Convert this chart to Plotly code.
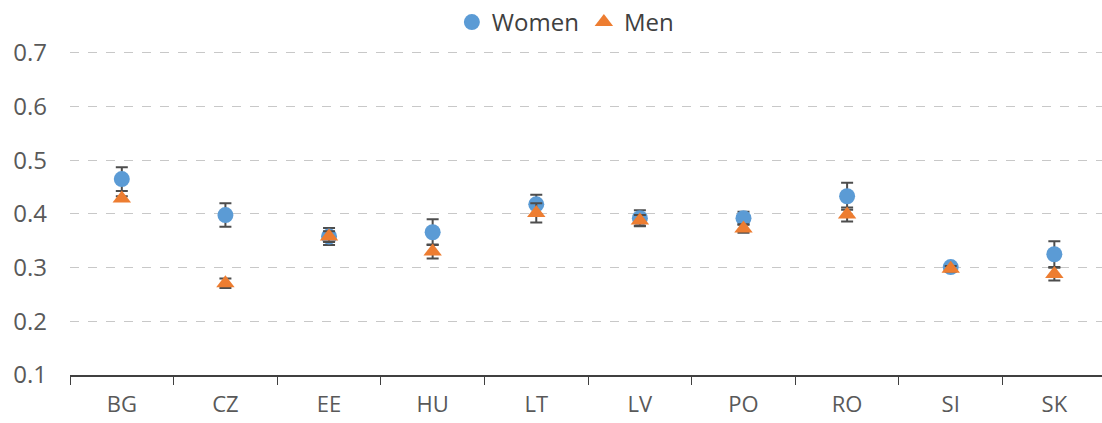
import plotly.graph_objects as go

# Country codes along the category axis
countries = ["BG", "CZ", "EE", "HU", "LT", "LV", "PO", "RO", "SI", "SK"]

# Mean values and symmetric error half-widths
women = [0.465, 0.398, 0.358, 0.366, 0.418, 0.392, 0.392, 0.433, 0.301, 0.325]
women_err = [0.022, 0.022, 0.016, 0.024, 0.018, 0.015, 0.012, 0.025, 0.006, 0.024]
men = [0.429, 0.271, 0.358, 0.330, 0.402, 0.388, 0.373, 0.399, 0.298, 0.288]
men_err = [0.004, 0.009, 0.010, 0.013, 0.018, 0.010, 0.008, 0.013, 0.005, 0.012]

y_ticks = [0.1, 0.2, 0.3, 0.4, 0.5, 0.6, 0.7]

FONT = "Open Sans"
ERR_COLOR = "#4D4D4D"

fig = go.Figure()
fig.add_trace(go.Scatter(
    x=countries, y=women, name="Women", mode="markers",
    marker=dict(symbol="circle", size=16, color="#5B9BD5"),
    error_y=dict(type="data", array=women_err, visible=True,
                 color=ERR_COLOR, thickness=2, width=6),
))
fig.add_trace(go.Scatter(
    x=countries, y=men, name="Men", mode="markers",
    marker=dict(symbol="triangle-up", size=16, color="#ED7D31"),
    error_y=dict(type="data", array=men_err, visible=True,
                 color=ERR_COLOR, thickness=2, width=6),
))

# a little headroom so the 0.7 gridline is drawn
y_top = 0.7 + 3 / 540

fig.update_layout(
    width=1102, height=423,
    margin=dict(l=70, r=0, t=48, b=48),
    plot_bgcolor="white", paper_bgcolor="white",
    font=dict(family=FONT, size=24, color="#595959"),
    showlegend=True,
    legend=dict(
        orientation="h", x=0.48, xanchor="center",
        y=1 + (48 - 20) / 327, yanchor="middle",
        font=dict(family=FONT, size=24, color="#404040"),
        bgcolor="rgba(0,0,0,0)",
    ),
    xaxis=dict(
        type="category", categoryorder="array", categoryarray=countries,
        range=[-0.5, 9.46], tickson="boundaries",
        ticks="outside", ticklen=8, tickwidth=1, tickcolor="#404040",
        showline=True, linecolor="#404040", linewidth=1.5,
        showgrid=False, zeroline=False, automargin=False,
        ticklabelstandoff=9,
        tickfont=dict(family=FONT, size=22, color="#595959"),
    ),
    yaxis=dict(
        range=[0.1, y_top], tickvals=y_ticks,
        ticktext=[f"{v:.1f}" for v in y_ticks],
        showgrid=True, gridcolor="#C8C8C8", griddash="dash", gridwidth=1,
        showline=False, zeroline=False, ticks="", automargin=False,
        ticklabelstandoff=22,
        tickfont=dict(family=FONT, size=24, color="#595959"),
    ),
)

fig.write_html("out.html")
